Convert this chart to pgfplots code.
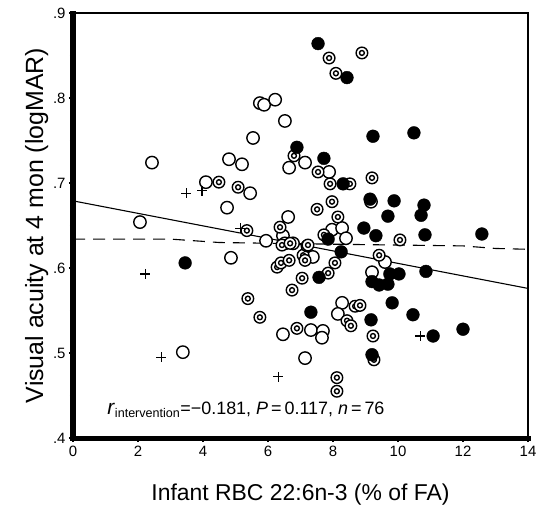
\documentclass[border=0pt]{standalone}
\usepackage{fontspec}
\setmainfont{Liberation Sans}
\usepackage{pgfplots}
\pgfplotsset{compat=1.18}

% circle with a small circle inside
\pgfdeclareplotmark{dcirc}{%
  \pgfpathcircle{\pgfpointorigin}{\pgfplotmarksize}\pgfusepathqfillstroke
  \pgfpathcircle{\pgfpointorigin}{0.42\pgfplotmarksize}\pgfusepathqstroke}

\begin{document}
\begin{tikzpicture}
\begin{axis}[
    scale only axis,
    width=455bp, height=425bp,
    xmin=0, xmax=14, ymin=0.4, ymax=0.9,
    xtick={0,2,4,6,8,10,12,14},
    ytick={0.4,0.5,0.6,0.7,0.8,0.9},
    yticklabels={.4,.5,.6,.7,.8,.9},
    minor ytick={0.45,0.55,0.65,0.75,0.85},
    xtick pos=bottom, ytick pos=left,
    tick align=outside,
    major tick length=4bp, minor tick length=3bp,
    tick style={line width=1.6bp, black},
    axis line style={line width=2.4bp},
    /pgf/number format/assume math mode=true,
    tick label style={font=\fontsize{15}{15}\selectfont},
    xticklabel style={yshift=-1bp},
    xlabel={Infant RBC 22:6n-3 (\% of FA)},
    ylabel={Visual acuity at 4 mon (logMAR)},
    xlabel style={font=\fontsize{23}{23}\selectfont, yshift=-20bp},
    ylabel style={font=\fontsize{25}{25}\selectfont, yshift=-2bp},
    clip=false,
]
\coordinate (ll) at (rel axis cs:0,0);
\coordinate (ur) at (rel axis cs:1,1);
\draw[line width=5bp, line cap=rect] (rel axis cs:0,1) -- (rel axis cs:0,0) -- (rel axis cs:1,0);

% fitted lines
\addplot[black, line width=1.1bp] coordinates {(0,0.679) (14,0.576)};
\addplot[black, line width=1.1bp, dash pattern=on 12bp off 8bp] coordinates {
    (0,0.634) (3,0.634) (4.5,0.630) (8,0.628) (12,0.626) (13,0.623) (14,0.622)};

% open circles
\addplot[only marks, mark=*, mark size=6.2bp, mark options={fill=white, draw=black, line width=1.4bp}] coordinates {
    (2.06,0.654) (2.43,0.724) (3.38,0.501) (4.09,0.701) (4.74,0.671) (4.80,0.728)
    (5.20,0.722) (5.45,0.688) (5.54,0.753) (5.75,0.794) (5.88,0.792) (6.22,0.798)
    (6.52,0.773) (6.65,0.718) (7.14,0.724) (6.62,0.660) (6.46,0.638) (5.94,0.632)
    (4.86,0.612) (6.46,0.522) (7.14,0.494) (8.28,0.559) (8.15,0.546) (7.97,0.645)
    (8.28,0.647) (8.40,0.635) (9.20,0.595) (9.60,0.607) (7.38,0.613) (7.32,0.527)
    (7.69,0.526) (7.66,0.518) (7.88,0.713) (6.77,0.629) (6.52,0.629) (9.17,0.678)
};

% circles with inner circle
\addplot[only marks, mark=dcirc, mark size=5.8bp, mark options={fill=white, draw=black, line width=1.4bp}] coordinates {
    (4.49,0.701) (5.08,0.695) (5.35,0.644) (6.80,0.732) (7.88,0.847) (8.89,0.853)
    (8.09,0.829) (7.54,0.713) (7.91,0.699) (8.52,0.699) (9.20,0.706) (7.97,0.678)
    (7.51,0.669) (8.15,0.660) (7.72,0.639) (10.06,0.633) (5.38,0.564) (5.75,0.542)
    (6.89,0.529) (6.28,0.601) (6.40,0.606) (6.65,0.609) (6.74,0.574) (7.05,0.588)
    (7.08,0.615) (7.14,0.609) (8.12,0.471) (8.12,0.455) (8.68,0.555) (8.83,0.556)
    (8.43,0.538) (8.55,0.532) (9.23,0.520) (9.26,0.492) (7.85,0.594) (8.06,0.606)
    (7.20,0.626) (9.42,0.615) (6.37,0.648) (6.43,0.627) (7.23,0.627) (6.68,0.629)
};

% filled circles
\addplot[only marks, mark=*, mark size=6.4bp, mark options={fill=black, draw=black}] coordinates {
    (3.45,0.606) (6.89,0.742) (7.54,0.864) (8.43,0.824) (9.23,0.755) (10.49,0.759)
    (7.72,0.729) (8.31,0.699) (9.14,0.681) (9.88,0.679) (10.80,0.674) (10.71,0.662)
    (9.69,0.661) (8.95,0.647) (9.32,0.638) (10.83,0.639) (12.58,0.640) (7.85,0.634)
    (8.25,0.619) (7.57,0.589) (9.20,0.584) (9.42,0.580) (9.69,0.581) (9.75,0.593)
    (10.03,0.593) (10.86,0.596) (9.82,0.559) (10.46,0.545) (11.08,0.520) (12.00,0.528)
    (7.32,0.548) (9.17,0.539) (9.20,0.498)
};

% plus signs
\addplot[only marks, mark=+, mark size=5bp, mark options={line width=1.1bp}] coordinates {
    (3.48,0.688) (3.97,0.691) (5.14,0.647) (2.22,0.593) (2.71,0.495) (6.31,0.472) (10.68,0.520)
};

\node[anchor=base west, font=\fontsize{18}{18}\selectfont, inner sep=0pt] at (axis cs:1.05,0.428)
    {{\fontsize{21}{21}\selectfont\textit{r}}\textsubscript{intervention}=−0.181, \textit{P}\,=\,0.117, \textit{n}\,=\,76};
\end{axis}
\pgfresetboundingbox
\path[use as bounding box] ([shift={(-73bp,-80bp)}]ll) rectangle ([shift={(12bp,13bp)}]ur);
\end{tikzpicture}
\end{document}
